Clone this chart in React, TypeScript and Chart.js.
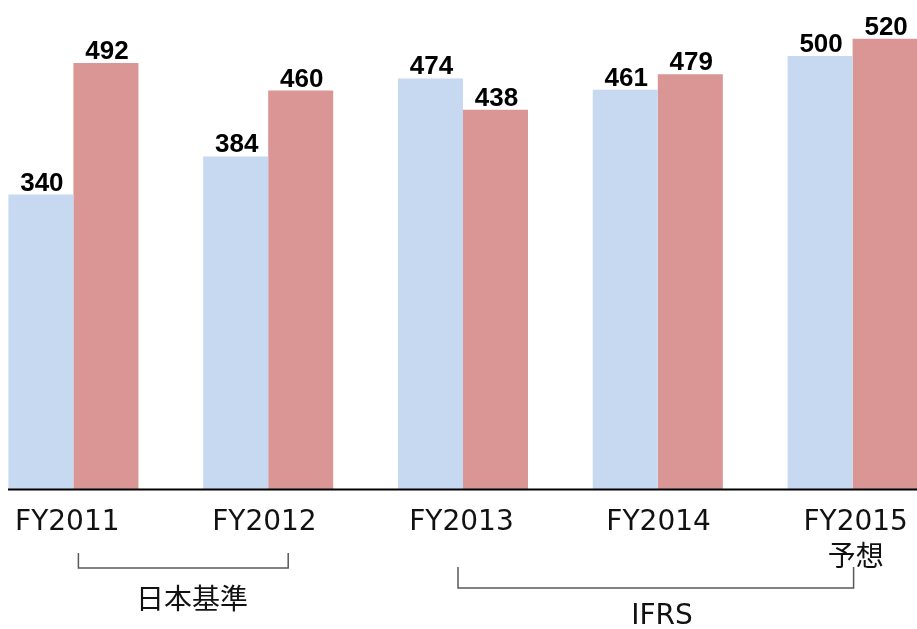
import React, { useEffect, useRef } from "react";
import { Chart, registerables } from "chart.js";

Chart.register(...registerables);

const categories = ["FY2011", "FY2012", "FY2013", "FY2014", "FY2015"];
const subLabels = ["", "", "", "", "予想"];
const seriesA = [340, 384, 474, 461, 500];
const seriesB = [492, 460, 438, 479, 520];
const groupNames = ["日本基準", "IFRS"];
const groupFrom = [0, 2];
const groupTo = [1, 4];

const BLUE = "#c6d9f1";
const RED = "#d99694";
const LATIN = "'DejaVu Sans', 'Noto Sans CJK JP', sans-serif";
const CJK = "'Noto Sans CJK JP', 'DejaVu Sans', sans-serif";

const overlay = {
  id: "overlay",
  afterDatasetsDraw(chart: any) {
    const ctx = chart.ctx;
    const xs = chart.scales.x;
    const area = chart.chartArea;
    ctx.save();
    // value labels
    ctx.font = "bold 26px 'Liberation Sans', Arial, sans-serif";
    ctx.fillStyle = "#000";
    ctx.textAlign = "center";
    ctx.textBaseline = "alphabetic";
    chart.data.datasets.forEach((ds: any, di: number) => {
      const meta = chart.getDatasetMeta(di);
      meta.data.forEach((bar: any, i: number) => {
        ctx.fillText(String(ds.data[i]), bar.x + 1, bar.y - 4);
      });
    });
    // axis line
    ctx.strokeStyle = "#000";
    ctx.lineWidth = 2;
    ctx.beginPath();
    ctx.moveTo(32, area.bottom + 0.5);
    ctx.lineTo(chart.width, area.bottom + 0.5);
    ctx.stroke();
    // category labels
    ctx.fillStyle = "#111";
    ctx.textBaseline = "middle";
    categories.forEach((c, i) => {
      const x = xs.getPixelForValue(i) + (i - 2) * 2.3 - 1.5;
      ctx.font = "28px " + LATIN;
      ctx.fillText(c, x, 523);
      if (subLabels[i]) {
        ctx.font = "28px " + CJK;
        ctx.fillText(subLabels[i], x, 555);
      }
    });
    // brackets
    ctx.strokeStyle = "#595959";
    ctx.lineWidth = 1.5;
    const br = [
      { x1: xs.getPixelForValue(groupFrom[0]) + 5, x2: xs.getPixelForValue(groupTo[0]) + 20, y1: 553, y2: 568, lx: 192 + 24, ly: 598, font: "28px " + CJK },
      { x1: xs.getPixelForValue(groupFrom[1]) - 5, x2: xs.getPixelForValue(groupTo[1]) + 1, y1: 567, y2: 588, lx: 662 + 24, ly: 617, font: "28px " + LATIN },
    ];
    br.forEach((b, gi) => {
      ctx.beginPath();
      ctx.moveTo(b.x1, b.y1);
      ctx.lineTo(b.x1, b.y2);
      ctx.lineTo(b.x2, b.y2);
      ctx.lineTo(b.x2, b.y1);
      ctx.stroke();
      ctx.font = b.font;
      ctx.fillText(groupNames[gi], b.lx, b.ly);
    });
    ctx.restore();
  },
};

export default function App() {
  const ref = useRef<HTMLCanvasElement>(null);
  useEffect(() => {
    if (!ref.current) return;
    const chart = new Chart(ref.current, {
      type: "bar",
      data: {
        labels: categories,
        datasets: [
          { data: seriesA, backgroundColor: BLUE, borderWidth: 0 },
          { data: seriesB, backgroundColor: RED, borderWidth: 0 },
        ],
      },
      options: {
        responsive: false,
        animation: false,
        layout: { padding: { top: 4, bottom: 140, left: 0, right: 0 } },
        datasets: { bar: { categoryPercentage: 0.6675, barPercentage: 1 } },
        plugins: { legend: { display: false }, tooltip: { enabled: false } },
        scales: {
          x: { display: false, offset: true },
          y: { display: false, min: 0, max: 560 },
        },
      },
      plugins: [overlay],
    });
    return () => chart.destroy();
  }, []);
  return (
    <div style={{ position: "fixed", left: 0, top: 0, width: 917, height: 629, overflow: "hidden", background: "#fff" }}>
      <canvas ref={ref} width={974} height={629} style={{ position: "absolute", left: -24, top: 0, width: 974, height: 629 }} />
    </div>
  );
}
